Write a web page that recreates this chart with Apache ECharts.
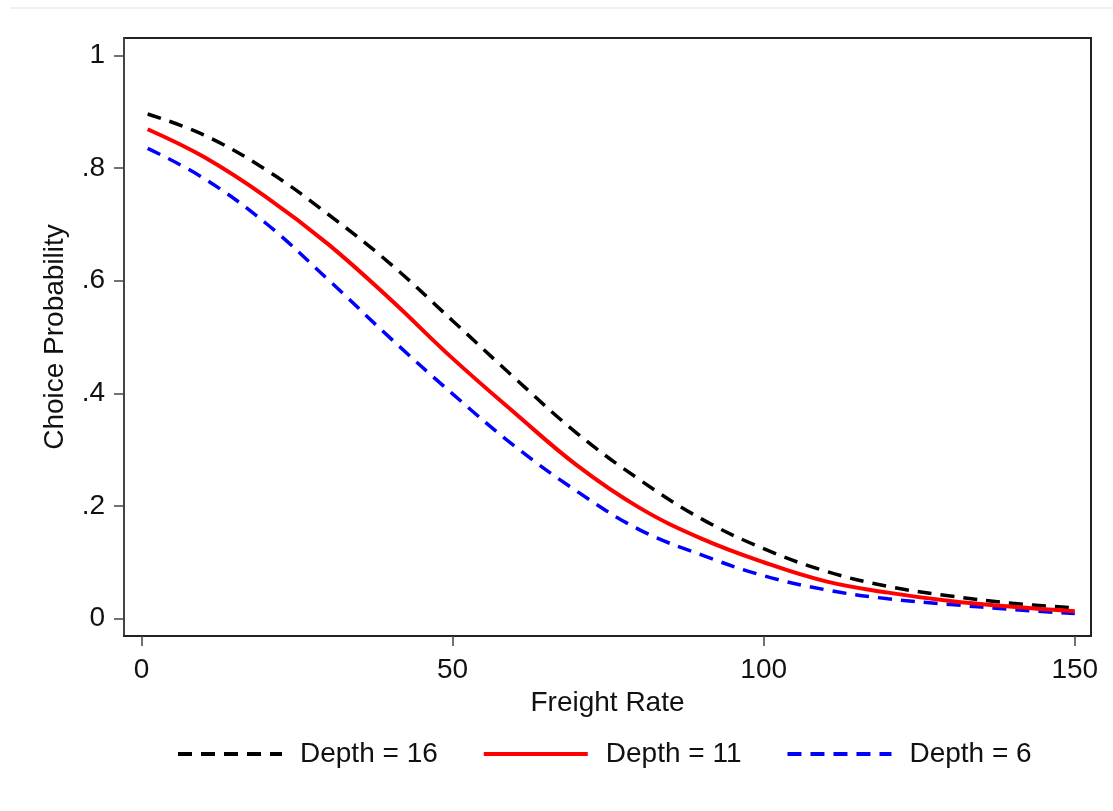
<!DOCTYPE html>
<html>
<head>
<meta charset="utf-8">
<title>Choice Probability</title>
<script src="https://cdn.jsdelivr.net/npm/echarts@6/dist/echarts.min.js"></script>
<style>
  html, body { margin: 0; padding: 0; background: #fff; }
  #chart { width: 1113px; height: 811px; }
</style>
</head>
<body>
<div id="chart"></div>
<script>
  // values
  var freightRate = [1, 10, 20, 30, 40, 50, 60, 70, 80, 90, 100, 110, 120, 130, 140, 150];
  var depth16 = [0.896, 0.859, 0.797, 0.718, 0.630, 0.529, 0.427, 0.329, 0.247, 0.177, 0.124, 0.084, 0.057, 0.040, 0.027, 0.019];
  var depth11 = [0.869, 0.820, 0.749, 0.665, 0.567, 0.462, 0.365, 0.272, 0.197, 0.142, 0.100, 0.066, 0.046, 0.031, 0.021, 0.013];
  var depth6 = [0.835, 0.782, 0.702, 0.602, 0.498, 0.399, 0.306, 0.226, 0.158, 0.113, 0.076, 0.051, 0.035, 0.025, 0.016, 0.009];

  var xTicks = [0, 50, 100, 150];
  var yTicks = [0, 0.2, 0.4, 0.6, 0.8, 1];
  var yTickLabels = ['0', '.2', '.4', '.6', '.8', '1'];

  function pairs(ys) {
    return ys.map(function (v, i) { return [freightRate[i], v]; });
  }

  var font = 'Liberation Sans, Arial, sans-serif';
  var myChart = echarts.init(document.getElementById('chart'));

  var option = {
    backgroundColor: '#fff',
    animation: false,
    textStyle: { fontFamily: font },
    grid: {
      left: 124, right: 22, top: 38, bottom: 175,
      show: true, borderColor: '#222', borderWidth: 2,
      outerBoundsMode: 'none'
    },
    graphic: [{
      type: 'line',
      shape: { x1: 10, y1: 8, x2: 1113, y2: 8 },
      style: { stroke: '#e6edf0', lineWidth: 1.5 }
    }],
    legend: {
      bottom: 38, left: 171,
      itemWidth: 104, itemHeight: 14, itemGap: 44,
      itemStyle: { opacity: 0 },
      lineStyle: { width: 4 },
      textStyle: { fontFamily: font, fontSize: 28, color: '#111', padding: [0, 0, 0, 13] },
      data: ['Depth = 16', 'Depth = 11', 'Depth = 6']
    },
    xAxis: {
      type: 'value',
      min: -2.8, max: 152.6,
      name: 'Freight Rate', nameLocation: 'middle', nameGap: 44,
      nameTextStyle: { fontFamily: font, fontSize: 28, color: '#111' },
      splitLine: { show: false },
      axisLine: { show: true, onZero: false, lineStyle: { color: '#222', width: 2 } },
      axisTick: { show: true, length: 10, customValues: xTicks, lineStyle: { color: '#444', width: 1.5 } },
      axisLabel: { customValues: xTicks, margin: 20, fontSize: 28, color: '#111', fontFamily: font }
    },
    yAxis: {
      type: 'value',
      min: -0.031, max: 1.031,
      name: 'Choice Probability', nameLocation: 'middle', nameGap: 55,
      nameTextStyle: { fontFamily: font, fontSize: 28, color: '#111' },
      splitLine: { show: false },
      axisLine: { show: true, onZero: false, lineStyle: { color: '#444', width: 2 } },
      axisTick: { show: true, length: 10, customValues: yTicks, lineStyle: { color: '#444', width: 1.5 } },
      axisLabel: {
        customValues: yTicks, margin: 19, fontSize: 28, color: '#111', fontFamily: font,
        formatter: function (v) {
          var i = yTicks.indexOf(v);
          return i >= 0 ? yTickLabels[i] : '';
        }
      }
    },
    series: [{
      name: 'Depth = 16',
      type: 'line',
      data: pairs(depth16),
      smooth: 0.4,
      symbol: 'none',
      z: 3,
      lineStyle: { color: '#000', width: 3.5, type: [14, 9] },
      itemStyle: { color: '#000' }
    },
      {
        name: 'Depth = 11',
        type: 'line',
        data: pairs(depth11),
        smooth: 0.4,
        symbol: 'none',
        z: 4,
        lineStyle: { color: '#ff0000', width: 4 },
        itemStyle: { color: '#ff0000' }
      },
      {
        name: 'Depth = 6',
        type: 'line',
        data: pairs(depth6),
        smooth: 0.4,
        symbol: 'none',
        z: 2,
        lineStyle: { color: '#0000ff', width: 3.5, type: [14, 9] },
        itemStyle: { color: '#0000ff' }
      }]
  };

  myChart.setOption(option);
</script>
</body>
</html>
